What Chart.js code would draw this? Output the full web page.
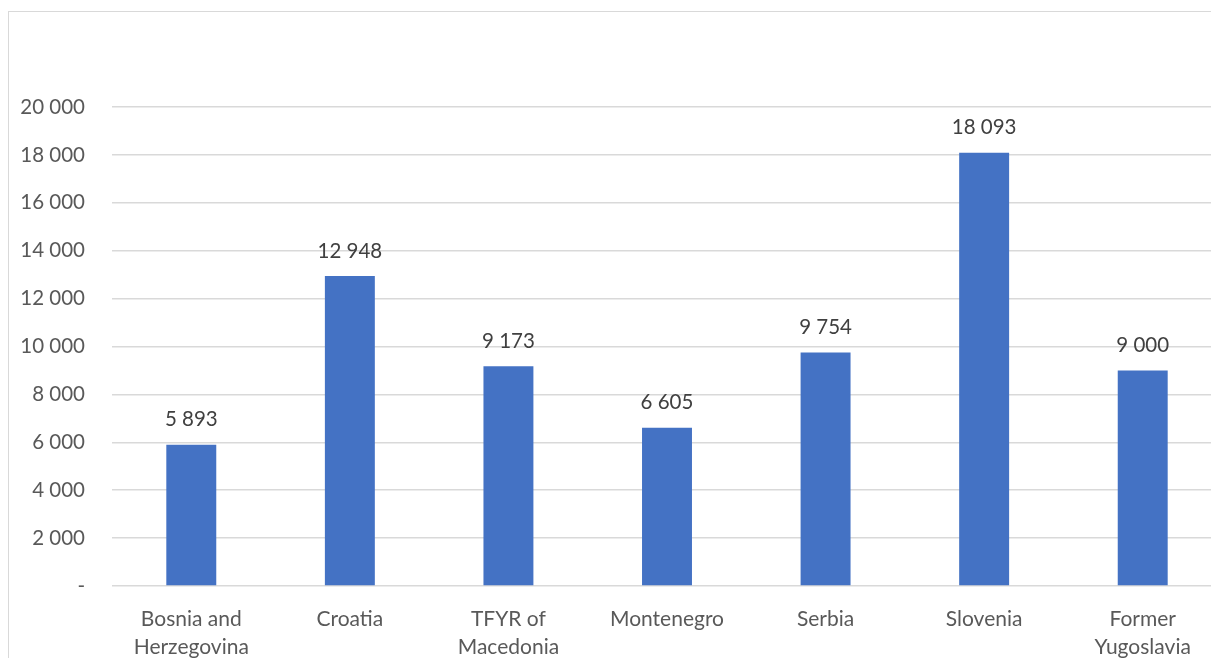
<!DOCTYPE html>
<html>
<head>
<meta charset="utf-8">
<script src="https://cdn.jsdelivr.net/npm/chart.js@4/dist/chart.umd.min.js"></script>
<style>
  html, body { margin: 0; padding: 0; background: #fff; overflow: hidden; width: 1211px; height: 658px; }
  #frame { position: absolute; left: 8px; top: 11px; width: 1300px; height: 700px; border: 1px solid #d9d9d9; }
  #wrap { position: absolute; left: 0; top: 0; width: 1222px; height: 670px; }
</style>
</head>
<body>
<div id="frame"></div>
<div id="wrap"><canvas id="chart"></canvas></div>
<script>
const categories = [
  ['Bosnia and', 'Herzegovina'],
  'Croatia',
  ['TFYR of', 'Macedonia'],
  'Montenegro',
  'Serbia',
  'Slovenia',
  ['Former', 'Yugoslavia']
];
const values = [5893, 12948, 9173, 6605, 9754, 18093, 9000];
const yMax = 20000;
const yStep = 2000;

function fmt(v) {
  if (v === 0) return '-';
  return String(v).replace(/\B(?=(\d{3})+(?!\d))/g, ' ');
}

const fontFamily = 'Lato, "Open Sans", sans-serif';

// draws the value above every bar
const valueLabels = {
  id: 'valueLabels',
  afterDatasetsDraw(chart) {
    const ctx = chart.ctx;
    const meta = chart.getDatasetMeta(0);
    ctx.save();
    ctx.font = '20.5px ' + fontFamily;
    ctx.fillStyle = '#404040';
    ctx.textAlign = 'center';
    ctx.textBaseline = 'middle';
    meta.data.forEach((bar, i) => {
      ctx.fillText(fmt(values[i]), bar.x, bar.y - 25);
    });
    ctx.restore();
  }
};

const ctx = document.getElementById('chart').getContext('2d');
new Chart(ctx, {
  type: 'bar',
  data: {
    labels: categories,
    datasets: [{
      data: values,
      backgroundColor: '#4472c4',
      categoryPercentage: 1,
      barPercentage: 0.315
    }]
  },
  options: {
    responsive: true,
    maintainAspectRatio: false,
    animation: false,
    layout: { padding: { top: 107, right: 0, bottom: 0, left: 0 } },
    plugins: {
      legend: { display: false },
      tooltip: { enabled: false }
    },
    scales: {
      x: {
        grid: { display: false },
        border: { display: false },
        ticks: {
          color: '#595959',
          font: { family: fontFamily, size: 21, lineHeight: 1.33 },
          padding: 11,
          maxRotation: 0,
          autoSkip: false
        },
        afterFit: s => { s.height = 84; }
      },
      y: {
        min: 0,
        max: yMax,
        grid: { color: '#d9d9d9', lineWidth: 1.5, drawTicks: false },
        border: { display: false },
        ticks: {
          stepSize: yStep,
          color: '#595959',
          font: { family: fontFamily, size: 20.5 },
          padding: 27,
          callback: v => fmt(v)
        },
        afterFit: s => { s.width = 112; }
      }
    }
  },
  plugins: [valueLabels]
});
</script>
</body>
</html>
